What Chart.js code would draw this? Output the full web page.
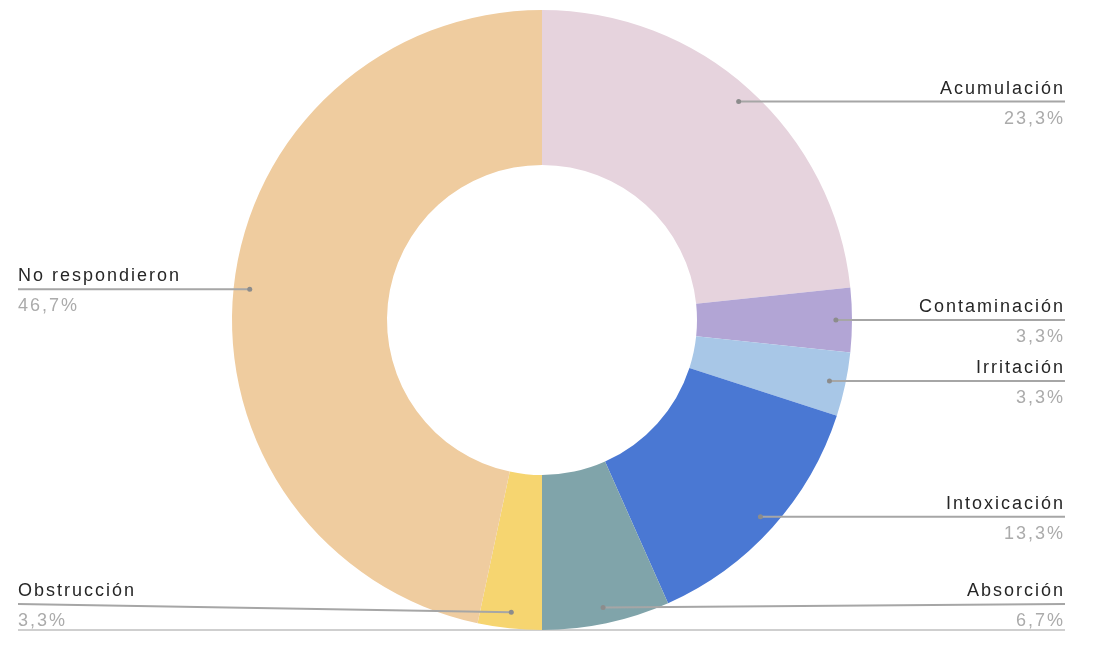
<!DOCTYPE html>
<html>
<head>
<meta charset="utf-8">
<script src="https://cdn.jsdelivr.net/npm/chart.js@4"></script>
<style>
html,body{margin:0;padding:0;background:#fff;}
#wrap{width:1094px;height:650px;position:relative;}
</style>
</head>
<body>
<div id="wrap"><canvas id="c"></canvas></div>
<script>
const categories = ["Acumulación","Contaminación","Irritación","Intoxicación","Absorción","Obstrucción","No respondieron"];
const counts = [7,1,1,4,2,1,14];
const colors = ["#e6d3dd","#b2a5d5","#a8c7e7","#4a78d3","#80a4aa","#f6d570","#efcc9f"];

const total = counts.reduce((a,b)=>a+b,0);
const pctLabels = counts.map(v => (v/total*100).toFixed(1).replace('.', ',') + '%');

const labelPlugin = {
  id: 'leaders',
  beforeDraw(chart){
    const ctx = chart.ctx;
    ctx.save();
    ctx.strokeStyle = '#cfcfcf';
    ctx.lineWidth = 2;
    ctx.beginPath();
    ctx.moveTo(18, 630);
    ctx.lineTo(1065, 630);
    ctx.stroke();
    ctx.restore();
  },
  afterDraw(chart){
    const ctx = chart.ctx;
    const meta = chart.getDatasetMeta(0);
    const font = '18px "Liberation Sans", Arial, sans-serif';
    ctx.save();
    meta.data.forEach((arc, i) => {
      const p = arc.getProps(['x','y','startAngle','endAngle','outerRadius'], true);
      const mid = (p.startAngle + p.endAngle) / 2;
      const r = p.outerRadius * 0.948;
      const dx = p.x + Math.cos(mid) * r;
      const dy = p.y + Math.sin(mid) * r;
      const right = Math.cos(mid) >= 0;
      const lineY = Math.min(dy, 604);
      const endX = right ? 1065 : 18;
      ctx.strokeStyle = '#a6a6a6';
      ctx.lineWidth = 2;
      ctx.beginPath();
      ctx.moveTo(endX, lineY);
      ctx.lineTo(dx, dy);
      ctx.stroke();
      ctx.fillStyle = '#8c8c8c';
      ctx.beginPath();
      ctx.arc(dx, dy, 2.5, 0, Math.PI*2);
      ctx.fill();
      ctx.font = font;
      if ('letterSpacing' in ctx) ctx.letterSpacing = '2px';
      ctx.textAlign = right ? 'right' : 'left';
      ctx.textBaseline = 'alphabetic';
      ctx.fillStyle = '#262626';
      ctx.fillText(categories[i], endX, lineY - 8);
      ctx.fillStyle = '#ababab';
      ctx.fillText(pctLabels[i], endX, lineY + 22);
    });
    ctx.restore();
  }
};

new Chart(document.getElementById('c'), {
  type: 'doughnut',
  data: {
    labels: categories,
    datasets: [{
      data: counts,
      backgroundColor: colors,
      borderWidth: 0,
      hoverOffset: 0
    }]
  },
  options: {
    responsive: true,
    maintainAspectRatio: false,
    animation: false,
    cutout: '50%',
    layout: { padding: { left: 232, right: 242, top: 10, bottom: 20 } },
    plugins: { legend: { display: false }, tooltip: { enabled: false } }
  },
  plugins: [labelPlugin]
});
</script>
</body>
</html>
